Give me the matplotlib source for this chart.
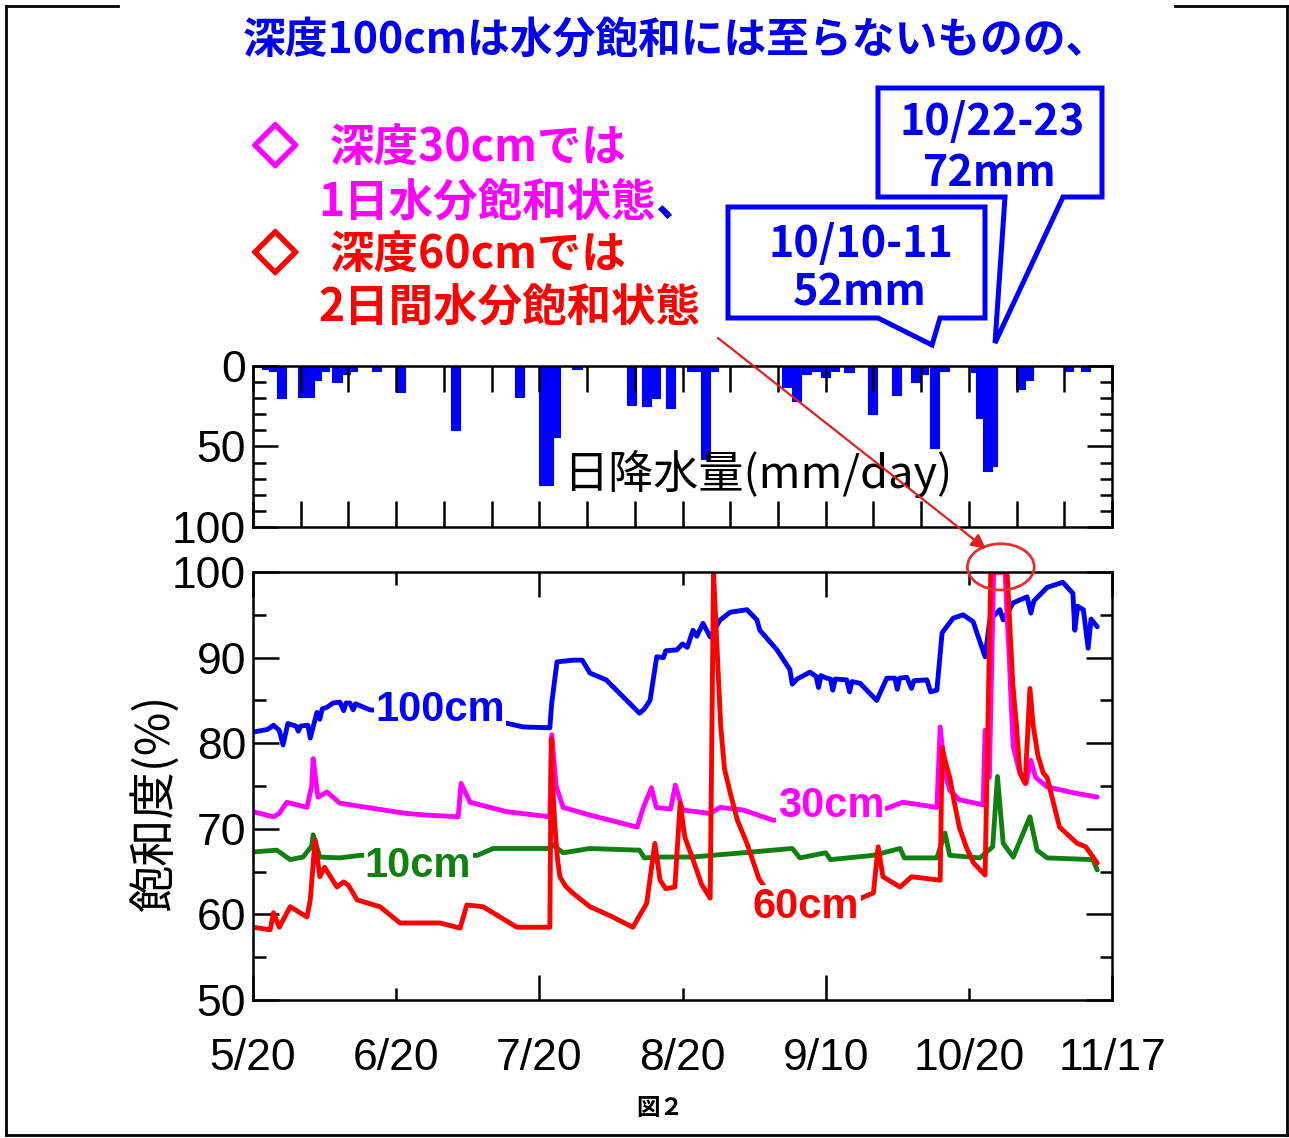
import matplotlib.pyplot as plt
import matplotlib.patheffects as pe
from matplotlib.patches import Polygon, Ellipse, FancyArrowPatch
from matplotlib.lines import Line2D

# ---- data (day counted from 5/20) ----
# daily rainfall (day, mm)
rain = [(3, 2), (4.5, 3), (6, 20), (10.5, 19), (12, 19), (13.5, 9), (15, 3),
        (17.7, 10), (19.5, 5), (21, 3), (26, 3), (31, 16), (42.5, 40), (56, 19),
        (61, 74), (62, 74), (63.5, 44), (68, 2), (79.5, 24), (82.5, 25), (84.5, 20),
        (87.5, 26), (92, 3), (93, 3), (95, 58), (96.5, 3), (112, 13), (114, 22),
        (116, 5), (118, 3), (120, 7), (122, 3), (125, 4), (130, 30), (135, 18),
        (139, 10), (140.5, 5), (143, 51), (145, 3), (151.5, 4), (152.5, 32),
        (154, 65), (155, 62), (161, 14), (162.5, 9), (171, 3), (174.5, 3)]

# soil water saturation (day, %)
d100 = [(0, 81.3), (3, 81.6), (4.3, 82.1), (5.5, 81.5), (6.3, 79.8), (7.3, 82.3),
        (9, 82.0), (9.5, 81.4), (10, 82.0), (11.5, 82.1), (12, 80.6), (13.4, 83.6),
        (14, 82.8), (14.5, 84.0), (15.5, 84.2), (16.8, 84.7), (18.2, 84.8),
        (19, 83.8), (19.5, 84.7), (20.3, 84.7), (21, 83.9), (21.5, 84.6),
        (24.5, 83.9), (35, 83.4), (45, 82.9), (53.4, 82.3), (56.6, 81.9),
        (62.2, 81.8), (62.6, 84.7), (63.7, 89.5), (67, 89.7), (69, 89.7),
        (70.6, 88.2), (74, 87.4), (81, 83.5), (82, 84.0), (83.2, 85.0),
        (84.6, 90.1), (86, 90.0), (86.5, 90.8), (88.8, 90.9), (90, 91.6),
        (91, 91.2), (92.2, 93.2), (93, 92.5), (94.3, 94.0), (95.8, 92.4),
        (97.9, 94.4), (100, 95.3), (103.5, 95.6), (105.6, 94.4), (106.2, 93.2),
        (109.8, 90.9), (112.5, 88.6), (113, 86.9), (114, 87.5), (116.7, 88.3),
        (118, 87.8), (118.5, 86.5), (119, 87.9), (120.2, 87.6), (121, 87.5),
        (121.5, 86.2), (122, 87.5), (124.4, 87.4), (125, 86.0), (125.5, 87.2),
        (127.2, 87.0), (130.7, 85.0), (132.8, 87.6), (134.5, 87.6), (135, 86.3),
        (135.5, 87.6), (137, 87.7), (138, 86.4), (138.5, 87.3), (141.2, 87.4),
        (142, 86.0), (143.3, 86.2), (144.4, 92.9), (146.7, 94.6), (148.8, 95.0),
        (150.9, 94.2), (153.4, 90.1), (154.4, 94.4), (156.5, 95.6), (157.2, 94.4),
        (159.3, 96.4), (162.2, 97.1), (163, 95.2), (163.6, 96.6), (166.4, 98.2),
        (169.7, 98.8), (171.8, 97.5), (172.2, 93.2), (172.8, 96.0), (174, 95.6),
        (175, 91.1), (175.6, 94.5), (176.9, 93.6)]

d30 = [(0, 72.0), (4.3, 71.4), (5.5, 71.8), (7.1, 73.1), (11.3, 72.5), (12.3, 75),
       (12.6, 78.2), (13.6, 73.7), (15.5, 74.3), (18.2, 73.0), (25, 72.4),
       (32, 71.8), (36.4, 71.6), (43, 71.4), (43.6, 75.3), (45.5, 73.1),
       (53.2, 72.0), (62.2, 71.4), (62.6, 81.0), (63.5, 75), (65, 72.5),
       (70.6, 71.6), (80.5, 70.2), (81.8, 72.5), (83.5, 74.8), (84.5, 72.5),
       (87.5, 72.3), (88.5, 75.1), (90, 72.2), (95.8, 71.8), (97.9, 72.5),
       (102.7, 72.2), (109, 71.0), (120, 71.5), (132.8, 72.4), (136.2, 73.1),
       (143.3, 72.5), (144.0, 81.9), (145, 76.5), (146, 74.5), (148, 73.4),
       (153, 72.8), (153.4, 81.5), (154.3, 76), (155.2, 100), (157.6, 100),
       (158, 95), (158.5, 89.7), (159, 83), (159.3, 79.6), (160.5, 76.9),
       (162, 75.3), (163, 78), (164, 76), (166.4, 74.9), (172, 74.2),
       (176.9, 73.7)]

d10 = [(0, 67.3), (5, 67.5), (7.8, 66.4), (10.5, 66.7), (12.3, 68), (12.6, 69.3),
       (14, 66.7), (18.2, 66.6), (22.4, 66.9), (35, 66.9), (47, 66.9),
       (50.3, 67.7), (56.6, 67.7), (62.2, 67.7), (62.6, 68.2), (65, 67.2),
       (70.6, 67.7), (81, 67.5), (82, 66.6), (85.3, 66.7), (92, 66.7),
       (102.7, 67.2), (113, 67.7), (114.6, 66.6), (120, 67.2), (121, 66.4),
       (130, 66.9), (135.6, 67.7), (136.5, 66.6), (143.3, 66.6), (145, 69.5),
       (146, 66.9), (152.3, 66.6), (155, 67.9), (156, 76.1), (157.2, 68.3),
       (159.3, 66.7), (162.8, 71.4), (164.3, 67.5), (166.4, 66.6), (176, 66.4),
       (176.9, 65.2)]

d60 = [(0, 58.5), (3.6, 58.2), (4.3, 60.2), (5.5, 58.5), (7.8, 60.9), (11.3, 59.7),
       (12, 61.7), (13, 68.7), (14, 64.4), (15, 65.5), (17.6, 63.2), (19, 63.8),
       (20, 63.4), (21.8, 61.7), (26.6, 60.9), (30.8, 59.0), (39.2, 59.0),
       (43.4, 58.4), (44.8, 61.1), (48.2, 60.9), (55.3, 58.5), (62.2, 58.5),
       (62.5, 80.5), (62.8, 75), (63.3, 70), (63.8, 66.5), (64.3, 64.4),
       (65.5, 63.3), (67, 62.5), (70.6, 60.9), (75, 59.8), (79.6, 58.5),
       (82.5, 61.3), (84.2, 68.3), (85.3, 64.0), (86.5, 63.0), (88.4, 63.2),
       (89.5, 73.0), (90.5, 69), (92.2, 66.4), (94, 63.5), (95.8, 61.9),
       (96.5, 100), (97, 94), (97.5, 88), (98, 82), (98.8, 77), (100, 74.2),
       (101.5, 71), (103.5, 68.3), (106, 64.2), (108, 62.5), (115, 61.2),
       (125, 61.0), (127.8, 62.0), (130, 62.5), (131, 67.9), (132, 64.4),
       (135.6, 63.2), (138, 64.4), (141, 64.2), (144, 64.0), (144.4, 79.5),
       (145, 78), (146, 76.0), (147, 73), (148, 70.2), (149.5, 67.8), (151, 66.0),
       (153.4, 64.6), (154.6, 100), (158, 100), (158.3, 97), (158.6, 93.6),
       (159.2, 87), (160, 81.9), (160.7, 76.5), (161.8, 75.3), (162.8, 86.4),
       (163.5, 82), (164.5, 78.5), (165.6, 76.5), (166.4, 76.0), (169, 70.2),
       (172.7, 68.3), (174.5, 67.9), (176.9, 66.0)]

date_major = [0, 60, 120, 180]
date_major_labels = ['5/20', '7/20', '9/10', '11/17']
date_minor = [30, 90, 150]
date_minor_labels = ['6/20', '8/20', '10/20']

BLUE = '#0000FF'
GREEN = '#108010'
MAGENTA = '#FF00FF'
RED = '#FF0000'
JP = ['Noto Sans CJK JP', 'DejaVu Sans']

plt.rcParams['font.family'] = ['Liberation Sans', 'DejaVu Sans']

W, H = 1289, 1138
fig = plt.figure(figsize=(W / 100, H / 100), dpi=100)


def fx(px):
    return px / W


def fy(py):
    return 1 - py / H


# ---- rainfall panel ----
axr = fig.add_axes([fx(253), fy(527), fx(1112) - fx(253), fy(366) - fy(527)])
rd, rmm = zip(*rain)
axr.bar(rd, rmm, width=1.7, color=BLUE, edgecolor=BLUE, linewidth=1.5)
axr.set_xlim(0, 180)
axr.set_ylim(100, 0)
axr.set_xticks(range(0, 181, 10))
axr.set_xticklabels([])
axr.set_yticks([0, 50, 100])
axr.set_yticks(range(0, 101, 10), minor=True)
axr.tick_params(axis='x', which='both', direction='in', top=True, bottom=True,
                length=19, width=1.8)
axr.tick_params(axis='y', which='major', direction='in', left=True, right=True,
                length=18, width=1.8, labelsize=32, pad=5)
axr.tick_params(axis='y', which='minor', direction='in', left=True, right=True,
                length=9, width=1.8)
for s in axr.spines.values():
    s.set_linewidth(1.8)
axr.text(65.0, 67, '日降水量(mm/day)', family=JP, fontsize=32.5, va='center', ha='left')

# ---- saturation panel ----
ax = fig.add_axes([fx(253), fy(1000), fx(1112) - fx(253), fy(572) - fy(1000)])
for pts, c in [(d100, BLUE), (d10, GREEN), (d30, MAGENTA), (d60, RED)]:
    x, y = zip(*pts)
    ax.plot(x, y, color=c, lw=3.5, solid_joinstyle='round', solid_capstyle='round')

ax.set_xlim(0, 180)
ax.set_ylim(50, 100)
ax.set_xticks(date_major, date_major_labels)
ax.set_xticks(date_minor, date_minor_labels, minor=True)
ax.set_yticks(range(50, 101, 10))
ax.set_yticks(range(55, 100, 10), minor=True)
ax.tick_params(axis='x', which='major', direction='in', top=True, length=18,
               width=1.8, labelsize=32, pad=27)
ax.tick_params(axis='x', which='minor', direction='in', top=True, length=9,
               width=1.8, labelsize=32, pad=27)
ax.tick_params(axis='y', which='major', direction='in', right=True, length=19,
               width=1.8, labelsize=32, pad=5)
ax.tick_params(axis='y', which='minor', direction='in', right=True, length=9,
               width=1.8)
for s in ax.spines.values():
    s.set_linewidth(1.8)
ax.set_ylabel('飽和度(%)', family=JP, fontsize=34)
ax.yaxis.set_label_coords(-0.085, 0.46)

box = dict(facecolor='white', edgecolor='none', pad=1)
ax.text(39.2, 83.9, '100cm', color=BLUE, fontsize=30, weight='bold', ha='center', va='center', bbox=box)
ax.text(121.1, 72.7, '30cm', color=MAGENTA, fontsize=30, weight='bold', ha='center', va='center', bbox=box)
ax.text(34.6, 65.7, '10cm', color=GREEN, fontsize=30, weight='bold', ha='center', va='center', bbox=box)
ax.text(115.9, 60.9, '60cm', color=RED, fontsize=30, weight='bold', ha='center', va='center', bbox=box)

ax.add_patch(Ellipse((156.7, 100.6), 14, 5.4, fill=False, ec='#E03030', lw=2, clip_on=False, zorder=6))

# ---- annotations ----
fig.text(fx(676), fy(40), '深度100cmは水分飽和には至らないものの、', family=JP, fontsize=30.8,
         weight='bold', color='#0000EE', ha='center', va='center')

fig.text(fx(253), fy(149), '◇', family=JP, fontsize=32, weight='bold', color=MAGENTA, ha='left', va='center',
         path_effects=[pe.withStroke(linewidth=2.5, foreground=MAGENTA)])
fig.text(fx(330), fy(149), '深度30cmでは', family=JP, fontsize=32, weight='bold', color=MAGENTA, ha='left', va='center')
t1 = fig.text(fx(318), fy(203), '1日水分飽和状態', family=JP, fontsize=32, weight='bold', color=MAGENTA, ha='left', va='center')
plt.annotate('、', xy=(1, 0), xycoords=t1, family=JP, fontsize=32, weight='bold', color='#0000EE', ha='left', va='bottom')
fig.text(fx(253), fy(256), '◇', family=JP, fontsize=32, weight='bold', color=RED, ha='left', va='center',
         path_effects=[pe.withStroke(linewidth=2.5, foreground=RED)])
fig.text(fx(330), fy(256), '深度60cmでは', family=JP, fontsize=32, weight='bold', color=RED, ha='left', va='center')
fig.text(fx(318), fy(308), '2日間水分飽和状態', family=JP, fontsize=32, weight='bold', color=RED, ha='left', va='center')

fig.add_artist(FancyArrowPatch((fx(718), fy(338)), (fx(986), fy(549)), transform=fig.transFigure,
                               arrowstyle='-|>', mutation_scale=22, color='#E02020', lw=1.6,
                               shrinkA=0, shrinkB=0))

call1 = [(878, 88), (1102, 88), (1102, 197), (1063, 197), (995, 343), (1005, 197), (878, 197)]
call2 = [(728, 207), (985, 207), (985, 318), (940, 318), (932, 345), (878, 318), (728, 318)]
for pts in (call1, call2):
    fig.add_artist(Polygon([(fx(a), fy(b)) for a, b in pts], closed=True, transform=fig.transFigure,
                           facecolor='white', edgecolor=BLUE, lw=3.6, joinstyle='miter'))
fig.text(fx(992), fy(122), '10/22-23', family=JP, fontsize=31, weight='bold', color='#0000EE', ha='center', va='center')
fig.text(fx(990), fy(173), '72mm', family=JP, fontsize=31, weight='bold', color='#0000EE', ha='center', va='center')
fig.text(fx(861), fy(244), '10/10-11', family=JP, fontsize=31, weight='bold', color='#0000EE', ha='center', va='center')
fig.text(fx(860), fy(293), '52mm', family=JP, fontsize=31, weight='bold', color='#0000EE', ha='center', va='center')

fig.text(fx(660), fy(1108), '図２', family=JP, fontsize=17, weight='bold', ha='center', va='center')

# ---- outer frame ----
frame = [((6, 6), (118, 6)), ((1175, 6), (1287, 6)), ((6, 6), (6, 1135)),
         ((1287, 6), (1287, 1135)), ((6, 1135), (1287, 1135))]
for (a, b), (c, d) in frame:
    fig.add_artist(Line2D([fx(a), fx(c)], [fy(b), fy(d)], transform=fig.transFigure, color='black', lw=2))

fig.savefig('out.png', dpi=100)
